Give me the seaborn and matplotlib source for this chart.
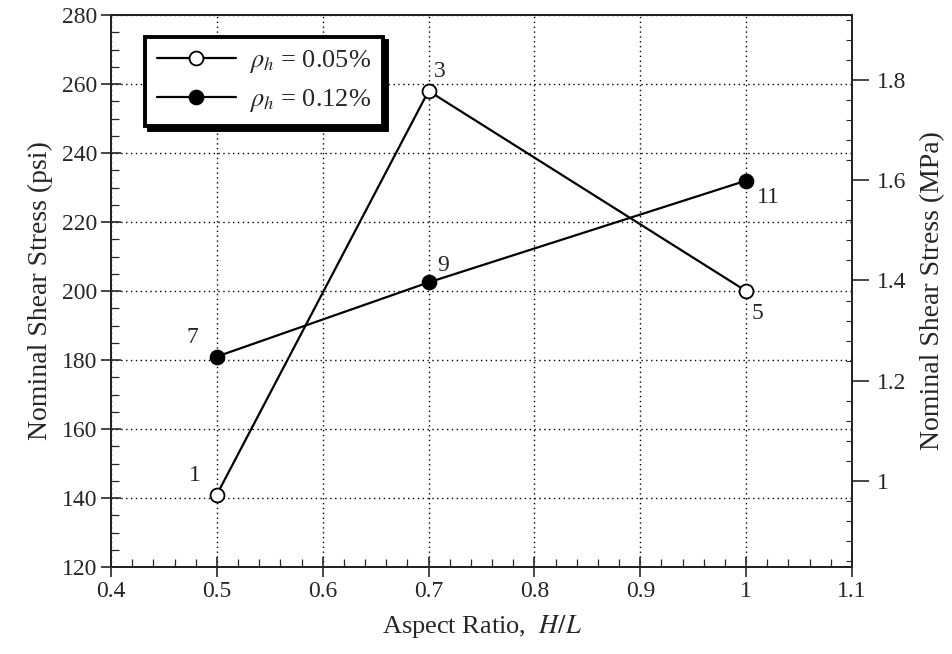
import numpy as np
import pandas as pd
import matplotlib
matplotlib.use("Agg")
import matplotlib.pyplot as plt
from matplotlib.ticker import MultipleLocator
import seaborn as sns

# data
aspect_ratio = [0.5, 0.7, 1.0]
stress_005 = [141, 258, 200]     # rho_h = 0.05 %
stress_012 = [181, 202.5, 232]   # rho_h = 0.12 %
labels_005 = ["1", "3", "5"]
labels_012 = ["7", "9", "11"]
series_names = [r"$\rho_h$ = 0.05%", r"$\rho_h$ = 0.12%"]
psi_per_mpa = 145.038

df = pd.DataFrame({
    "H/L": aspect_ratio * 2,
    "stress": stress_005 + stress_012,
    "series": [series_names[0]] * 3 + [series_names[1]] * 3,
})

sns.set_style("ticks")
plt.rcParams["font.family"] = ["Liberation Serif", "DejaVu Serif"]
plt.rcParams["mathtext.fontset"] = "stix"

fig = plt.figure(figsize=(9.53, 6.54), dpi=100)
ax = fig.add_axes([0.1165, 0.133, 0.7775, 0.844])

# dotted grid behind the lines
ax.grid(True, which="major", color="black", linestyle=(0, (1, 2.5)), linewidth=1.0)
ax.set_axisbelow(True)

for name, face in zip(series_names, ["white", "black"]):
    sns.lineplot(
        data=df[df["series"] == name],
        x="H/L", y="stress",
        ax=ax, color="black", linewidth=1.6,
        marker="o", markersize=10, markerfacecolor=face,
        markeredgecolor="black", markeredgewidth=1.3,
        label=name,
    )

# point numbers
offsets_005 = [(-20, 10), (4, 10), (4, -20)]
offsets_012 = [(-22, 10), (6, 8), (8, -16)]
for xs, ys, labs, offs in [(aspect_ratio, stress_005, labels_005, offsets_005),
                           (aspect_ratio, stress_012, labels_012, offsets_012)]:
    for x, y, t, o in zip(xs, ys, labs, offs):
        ax.annotate(t, (x, y), xytext=o, textcoords="offset points", fontsize=17)

ax.set_xlim(0.4, 1.1)
ax.set_ylim(120, 280)
ax.xaxis.set_minor_locator(MultipleLocator(0.02))
ax.yaxis.set_major_locator(MultipleLocator(20))
ax.yaxis.set_minor_locator(MultipleLocator(5))
ax.set_xticks(np.arange(0.4, 1.11, 0.1))
ax.set_xticklabels(["0.4", "0.5", "0.6", "0.7", "0.8", "0.9", "1", "1.1"])
ax.tick_params(which="major", direction="inout", length=14, width=1.2, labelsize=17, pad=3)
ax.tick_params(which="minor", direction="in", length=6, width=0.9)
ax.tick_params(axis="both", which="both", top=False, right=False)
for s in ax.spines.values():
    s.set_linewidth(1.3)
    s.set_color("black")

ax.set_xlabel("Aspect Ratio,  $\\it{H/L}$", fontsize=19, labelpad=8)
ax.set_ylabel("Nominal Shear Stress (psi)", fontsize=20, labelpad=6)

# secondary MPa axis
ax2 = ax.twinx()
ax2.set_ylim(120 / psi_per_mpa, 280 / psi_per_mpa)
ax2.set_yticks([1.0, 1.2, 1.4, 1.6, 1.8])
ax2.set_yticklabels(["1", "1.2", "1.4", "1.6", "1.8"])
ax2.yaxis.set_minor_locator(MultipleLocator(0.04))
ax2.tick_params(which="major", direction="out", length=12, width=1.2, labelsize=17, pad=6)
ax2.tick_params(which="minor", direction="in", length=4, width=0.8)
ax2.set_ylabel("Nominal Shear Stress (MPa)", fontsize=20, labelpad=10)
for s in ax2.spines.values():
    s.set_linewidth(1.3)

leg = ax.legend(
    loc="upper left", bbox_to_anchor=(0.028, 0.985),
    fontsize=19, frameon=True, fancybox=False, handlelength=3.0,
    borderpad=0.45, labelspacing=0.45, handletextpad=0.5,
    shadow={"ox": 3, "oy": -3, "color": "black", "alpha": 1},
)
leg.get_frame().set_edgecolor("black")
leg.get_frame().set_linewidth(2.8)
leg.get_frame().set_facecolor("white")
leg.get_frame().set_alpha(1)

fig.savefig("out.png", dpi=100)
